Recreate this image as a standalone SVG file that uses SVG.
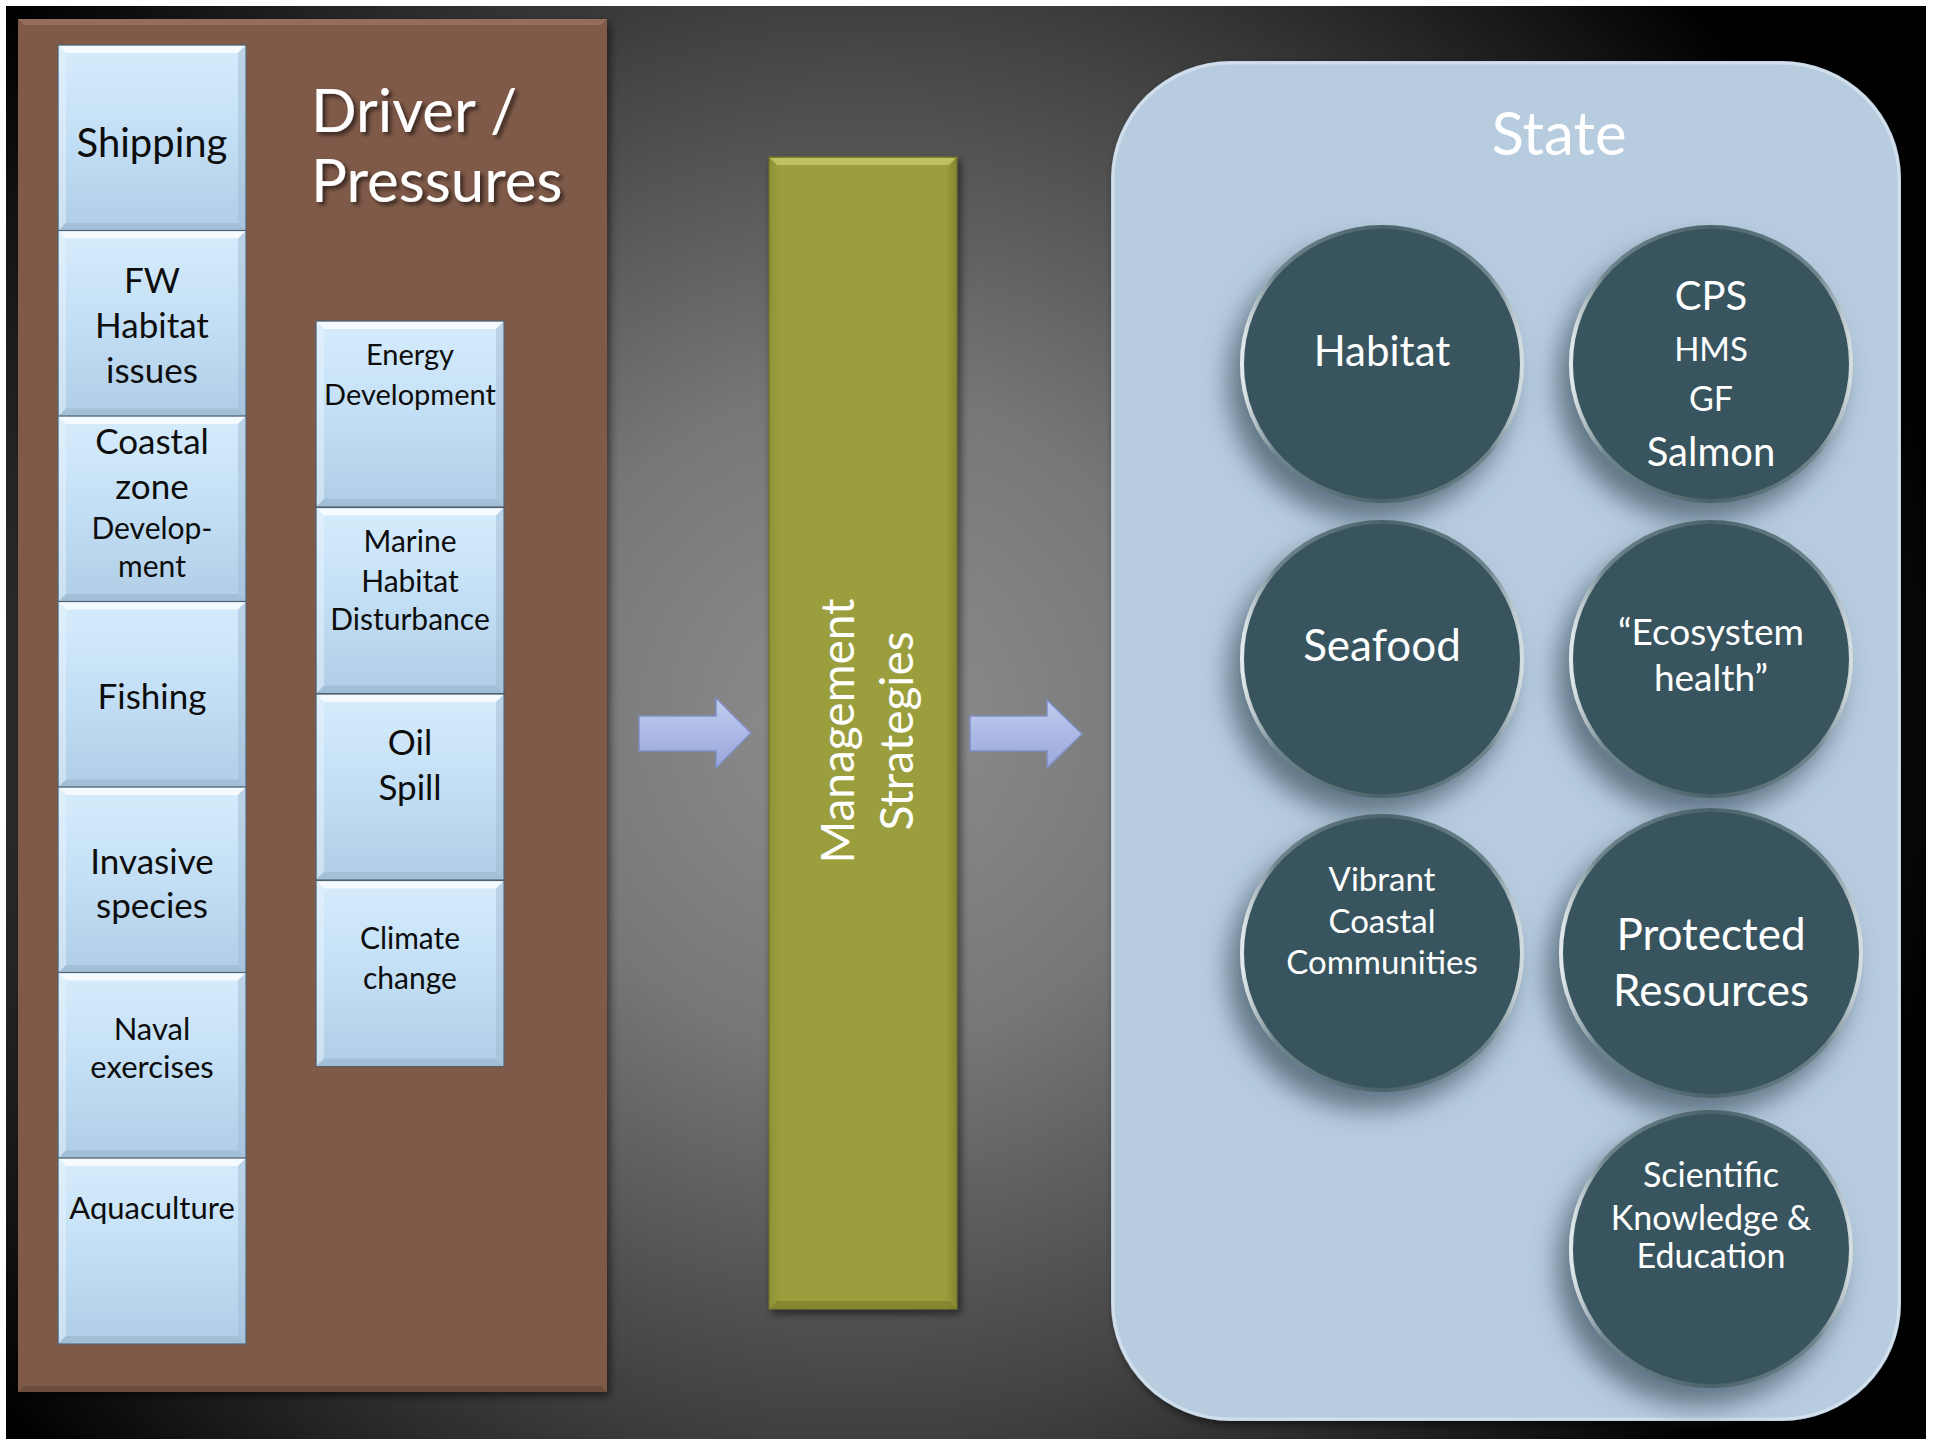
<svg xmlns="http://www.w3.org/2000/svg" xmlns:xlink="http://www.w3.org/1999/xlink" width="1935" height="1439" viewBox="0 0 1935 1439">
<defs>
<style>
text{font-family:Lato,"Liberation Sans","DejaVu Sans",sans-serif;text-anchor:middle}
.bt{fill:#0d0d0d}
.wt{fill:#ffffff}
.circ{fill:#37545e;stroke:url(#rim);stroke-width:4}
</style>
<radialGradient id="bg" gradientUnits="userSpaceOnUse" cx="860" cy="720" r="1100">
<stop offset="0" stop-color="#8f8f8f"/>
<stop offset="0.3" stop-color="#777"/>
<stop offset="0.65" stop-color="#404040"/>
<stop offset="1" stop-color="#000"/>
</radialGradient>
<linearGradient id="boxG" x1="0" y1="0" x2="0" y2="1">
<stop offset="0" stop-color="#d6ecfc"/>
<stop offset="0.5" stop-color="#c3dff5"/>
<stop offset="1" stop-color="#b0cde6"/>
</linearGradient>
<linearGradient id="greenG" x1="0" y1="0" x2="1" y2="0">
<stop offset="0" stop-color="#8f9335"/>
<stop offset="0.06" stop-color="#9a9e3c"/>
<stop offset="0.94" stop-color="#9a9e3c"/>
<stop offset="1" stop-color="#83872f"/>
</linearGradient>
<linearGradient id="arrowG" x1="0" y1="0" x2="0" y2="1">
<stop offset="0" stop-color="#c3cdf0"/>
<stop offset="1" stop-color="#98a6da"/>
</linearGradient>
<linearGradient id="rim" x1="0" y1="0" x2="1" y2="0">
<stop offset="0" stop-color="#e4eaec"/>
<stop offset="0.12" stop-color="#6f858d"/>
<stop offset="0.5" stop-color="#4a626b"/>
<stop offset="0.88" stop-color="#6f858d"/>
<stop offset="1" stop-color="#d4dde0"/>
</linearGradient>
<filter id="sh" x="-10%" y="-10%" width="130%" height="130%">
<feDropShadow dx="3" dy="4" stdDeviation="4" flood-color="#000" flood-opacity="0.55"/>
</filter>
<filter id="csh" x="-30%" y="-30%" width="160%" height="170%">
<feDropShadow dx="-12" dy="18" stdDeviation="13" flood-color="#4a6070" flood-opacity="0.8"/>
</filter>
<filter id="tsh" x="-10%" y="-20%" width="130%" height="150%">
<feDropShadow dx="3" dy="3" stdDeviation="2" flood-color="#000" flood-opacity="0.6"/>
</filter>
<g id="bbox">
<rect x="0" y="0" width="188" height="186" fill="url(#boxG)" stroke="#51606b" stroke-width="1.2"/>
<polygon points="1,1 187,1 180,8 8,8" fill="#ffffff" opacity="0.75"/>
<polygon points="1,1 8,8 8,178 1,185" fill="#e8f4fd" opacity="0.5"/>
<polygon points="187,1 180,8 180,178 187,185" fill="#9fbad3" opacity="0.5"/>
<polygon points="1,185 187,185 180,178 8,178" fill="#9ab6cf" opacity="0.6"/>
</g>
</defs>

<rect x="0" y="0" width="1935" height="1439" fill="#ffffff"/>
<rect x="6" y="6" width="1920" height="1433" fill="url(#bg)"/>

<g id="driver-panel">
<rect x="18" y="19" width="589" height="1373" fill="#7f5a4a" filter="url(#sh)"/>
<polygon points="18,19 607,19 601,25 24,25" fill="#9a7363" opacity="0.8"/>
<polygon points="18,1392 607,1392 601,1386 24,1386" fill="#6a4a3c" opacity="0.8"/>
<g filter="url(#tsh)">
<text x="311" y="132" class="wt" font-size="60" style="text-anchor:start">Driver /</text>
<text x="311" y="202" class="wt" font-size="60" style="text-anchor:start">Pressures</text>
</g>
</g>

<g id="shipping"><use xlink:href="#bbox" x="58" y="45"/><text x="152" y="157" class="bt" font-size="40">Shipping</text></g>
<g id="fw-habitat"><use xlink:href="#bbox" x="58" y="230.5"/><text class="bt" font-size="35"><tspan x="152" y="293">FW</tspan><tspan x="152" y="338">Habitat</tspan><tspan x="152" y="383">issues</tspan></text></g>
<g id="coastal-zone"><use xlink:href="#bbox" x="58" y="416"/><text class="bt" font-size="35"><tspan x="152" y="454">Coastal</tspan><tspan x="152" y="499">zone</tspan></text><text class="bt" font-size="30"><tspan x="152" y="539">Develop-</tspan><tspan x="152" y="577">ment</tspan></text></g>
<g id="fishing"><use xlink:href="#bbox" x="58" y="601.5"/><text x="152" y="709" class="bt" font-size="35">Fishing</text></g>
<g id="invasive"><use xlink:href="#bbox" x="58" y="787"/><text class="bt" font-size="35"><tspan x="152" y="874">Invasive</tspan><tspan x="152" y="918">species</tspan></text></g>
<g id="naval"><use xlink:href="#bbox" x="58" y="972.5"/><text class="bt" font-size="31"><tspan x="152" y="1040">Naval</tspan><tspan x="152" y="1078">exercises</tspan></text></g>
<g id="aquaculture"><use xlink:href="#bbox" x="58" y="1158"/><text x="152" y="1219" class="bt" font-size="31">Aquaculture</text></g>

<g id="energy"><use xlink:href="#bbox" x="316" y="321"/><text class="bt" font-size="29"><tspan x="410" y="365">Energy</tspan><tspan x="410" y="405">Development</tspan></text></g>
<g id="marine-habitat"><use xlink:href="#bbox" x="316" y="507.5"/><text class="bt" font-size="30"><tspan x="410" y="552">Marine</tspan><tspan x="410" y="592">Habitat</tspan><tspan x="410" y="630">Disturbance</tspan></text></g>
<g id="oil-spill"><use xlink:href="#bbox" x="316" y="694"/><text class="bt" font-size="35"><tspan x="410" y="755">Oil</tspan><tspan x="410" y="800">Spill</tspan></text></g>
<g id="climate"><use xlink:href="#bbox" x="316" y="880.5"/><text class="bt" font-size="30"><tspan x="410" y="949">Climate</tspan><tspan x="410" y="989">change</tspan></text></g>

<g id="management">
<rect x="769" y="157" width="188" height="1152" fill="url(#greenG)" stroke="#6d7028" stroke-width="1.2" filter="url(#sh)"/>
<polygon points="770,158 956,158 949,165 777,165" fill="#c8cb6a" opacity="0.8"/>
<polygon points="770,1308 956,1308 949,1301 777,1301" fill="#7c7f2c" opacity="0.7"/>
<text class="wt" font-size="46" transform="translate(854,731) rotate(-90)" x="0" y="0">Management</text>
<text class="wt" font-size="46" transform="translate(913,731) rotate(-90)" x="0" y="0">Strategies</text>
</g>

<g id="connectors">
<path d="M639,716 H716 V698 L751,733 L716,768 V751 H639 Z" fill="url(#arrowG)" stroke="#7f8fc4" stroke-width="1.5"/>
<path d="M970,716 H1047 V700 L1082,734 L1047,768 V751 H970 Z" fill="url(#arrowG)" stroke="#7f8fc4" stroke-width="1.5"/>
</g>

<g id="state">
<rect x="1111" y="61" width="790" height="1360" rx="120" ry="118" fill="#b7ccdf" filter="url(#sh)"/>
<rect x="1113" y="63" width="786" height="1356" rx="118" ry="116" fill="none" stroke="#dbe7f1" stroke-width="3" opacity="0.7"/>
<text x="1559" y="155" class="wt" font-size="60">State</text>
</g>

<g id="habitat"><ellipse cx="1382" cy="364" rx="140" ry="137" class="circ" filter="url(#csh)"/><text x="1382" y="366" class="wt" font-size="42">Habitat</text></g>
<g id="species"><ellipse cx="1711" cy="364" rx="140" ry="137" class="circ" filter="url(#csh)"/><text class="wt"><tspan x="1711" y="310" font-size="40">CPS</tspan><tspan x="1711" y="361" font-size="33">HMS</tspan><tspan x="1711" y="411" font-size="34">GF</tspan><tspan x="1711" y="466" font-size="40">Salmon</tspan></text></g>
<g id="seafood"><ellipse cx="1382" cy="659" rx="140" ry="137" class="circ" filter="url(#csh)"/><text x="1382" y="661" class="wt" font-size="44">Seafood</text></g>
<g id="ecosystem-health"><ellipse cx="1711" cy="659" rx="140" ry="137" class="circ" filter="url(#csh)"/><text class="wt" font-size="37"><tspan x="1711" y="645">“Ecosystem</tspan><tspan x="1711" y="691">health”</tspan></text></g>
<g id="vibrant-communities"><ellipse cx="1382" cy="953" rx="140" ry="137" class="circ" filter="url(#csh)"/><text class="wt" font-size="33"><tspan x="1382" y="891">Vibrant</tspan><tspan x="1382" y="933">Coastal</tspan><tspan x="1382" y="974">Communities</tspan></text></g>
<g id="protected-resources"><ellipse cx="1711" cy="953" rx="150" ry="143" class="circ" filter="url(#csh)"/><text class="wt" font-size="44"><tspan x="1711" y="950">Protected</tspan><tspan x="1711" y="1006">Resources</tspan></text></g>
<g id="scientific-knowledge"><ellipse cx="1711" cy="1249" rx="140" ry="137" class="circ" filter="url(#csh)"/><text class="wt" font-size="34"><tspan x="1711" y="1187">Scientific</tspan><tspan x="1711" y="1230">Knowledge &amp;</tspan><tspan x="1711" y="1268">Education</tspan></text></g>
</svg>
